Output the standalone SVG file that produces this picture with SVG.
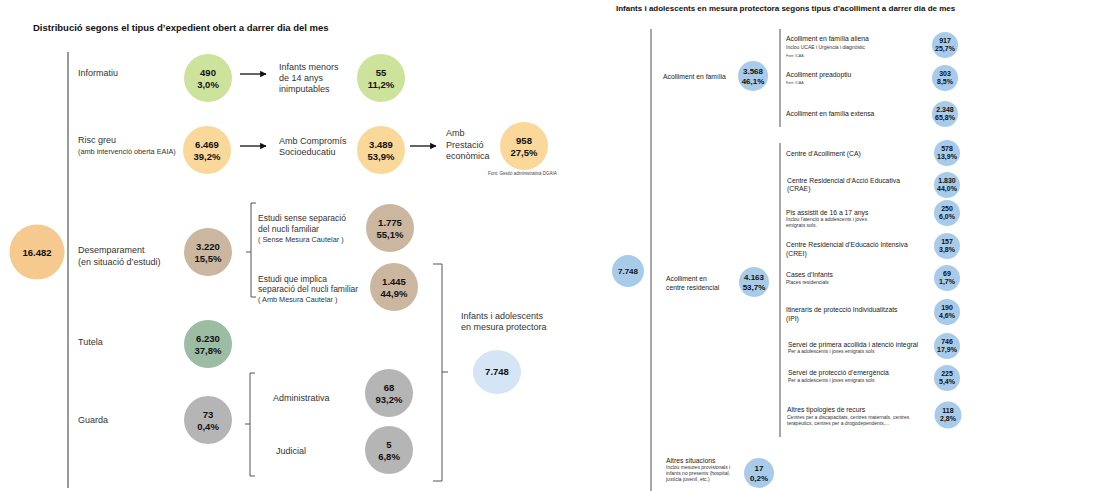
<svg xmlns="http://www.w3.org/2000/svg" width="1115" height="491" viewBox="0 0 1115 491">
  <style>
    text { font-family: "Liberation Sans", Arial, sans-serif; }
    .title { font-weight: bold; fill: #111; }
    .lbl { font-size: 9px; fill: #333; }
    .lbl-n { font-size: 8.5px; fill: #333; }
    .lbl-sm { font-size: 7.3px; fill: #333; }
    .num { font-size: 9.5px; font-weight: bold; fill: #111; text-anchor: middle; }
    .rlbl { font-size: 6.8px; fill: #222; }
    .rsub { font-size: 5px; fill: #333; }
    .rfont { font-size: 3.6px; fill: #444; }
    .rnum { font-size: 7px; font-weight: bold; fill: #111; text-anchor: middle; }
    .rnum-l { font-size: 8px; font-weight: bold; fill: #111; text-anchor: middle; }
    .note { font-size: 4.5px; fill: #444; }
    .c-green { fill: #CDE39C; }
    .c-orange { fill: #F9D89A; }
    .c-orange2 { fill: #F6CA8F; }
    .c-brown { fill: #CBB69F; }
    .c-teal { fill: #9DBCA4; }
    .c-gray { fill: #B5B5B5; }
    .c-pale { fill: #D5E5F5; }
    .c-blue { fill: #A8CBEA; }
    .axis { stroke: #555; stroke-width: 1.2; fill: none; }
    .raxis { stroke: #8a8a8a; stroke-width: 1.5; fill: none; }
    .brk { stroke: #555; stroke-width: 1; fill: none; }
    .arrow { stroke: #111; stroke-width: 1.3; fill: none; marker-end: url(#head); }
  </style>
  <defs>
    <marker id="head" viewBox="0 0 10 10" refX="9" refY="5" markerWidth="5" markerHeight="5" orient="auto" markerUnits="strokeWidth">
      <path d="M0,0 L10,5 L0,10 z" fill="#111"/>
    </marker>
  </defs>

  <rect width="1115" height="491" fill="#ffffff"/>

  <!-- Titles -->
  <text class="title" x="33" y="31" font-size="9.5">Distribució segons el tipus d’expedient obert a darrer dia del mes</text>
  <text class="title" x="616" y="11" font-size="8">Infants i adolescents en mesura protectora segons tipus d’acolliment a darrer dia de mes</text>

  <!-- Connectors: axes, arrows and brackets -->
  <g id="connectors">
    <line class="axis" x1="68" y1="52" x2="68" y2="488"/>
    <line class="arrow" x1="240" y1="74" x2="266" y2="74"/>
    <line class="arrow" x1="240" y1="146" x2="266" y2="146"/>
    <line class="arrow" x1="410" y1="146" x2="436" y2="146"/>
    <!-- Desemparament split -->
    <path class="brk" d="M256,203 H251 V297 H256 M251,252 H246"/>
    <!-- Guarda split -->
    <path class="brk" d="M255,373 H250 V476 H255 M250,424 H245"/>
    <!-- total under protective measure -->
    <path class="brk" d="M433,264 H442 V481 H433 M442,372 H448"/>
    <!-- right panel axes -->
    <line class="raxis" x1="651" y1="29" x2="651" y2="491"/>
    <line class="raxis" x1="780" y1="29" x2="780" y2="127"/>
    <line class="raxis" x1="780" y1="143" x2="780" y2="437"/>
  </g>

  <!-- Left panel -->
  <g id="total">
    <circle class="c-orange2" cx="37" cy="252" r="27.5"/>
    <text class="num" x="37" y="256" font-size="10.5">16.482</text>
  </g>

  <g id="informatiu">
    <text class="lbl" x="78" y="76">Informatiu</text>
    <circle class="c-green" cx="208" cy="78" r="24"/>
    <text class="num" x="208" y="76">490</text>
    <text class="num" x="208" y="88">3,0%</text>
  </g>
  <g id="inimputables">
    <text class="lbl" x="279" y="70">Infants menors</text>
    <text class="lbl" x="279" y="81">de 14 anys</text>
    <text class="lbl" x="279" y="92">inimputables</text>
    <circle class="c-green" cx="381" cy="78" r="24"/>
    <text class="num" x="381" y="76">55</text>
    <text class="num" x="381" y="88">11,2%</text>
  </g>

  <g id="risc-greu">
    <text class="lbl" x="78" y="143">Risc greu</text>
    <text class="lbl-sm" x="78" y="154">(amb intervenció oberta EAIA)</text>
    <circle class="c-orange" cx="207" cy="150" r="24"/>
    <text class="num" x="207" y="148">6.469</text>
    <text class="num" x="207" y="160">39,2%</text>
  </g>
  <g id="compromis">
    <text class="lbl" x="279" y="144">Amb Compromís</text>
    <text class="lbl" x="279" y="155">Socioeducatiu</text>
    <circle class="c-orange" cx="381" cy="150" r="24"/>
    <text class="num" x="381" y="148">3.489</text>
    <text class="num" x="381" y="160">53,9%</text>
  </g>
  <g id="prestacio">
    <text class="lbl" x="446" y="136">Amb</text>
    <text class="lbl" x="446" y="148">Prestació</text>
    <text class="lbl" x="446" y="159">econòmica</text>
    <circle class="c-orange" cx="524" cy="146" r="24"/>
    <text class="num" x="524" y="144">958</text>
    <text class="num" x="524" y="156">27,5%</text>
    <text class="note" x="488" y="175">Font: Gestió administrativa DGAIA</text>
  </g>

  <g id="desemparament">
    <text class="lbl" x="78" y="253">Desemparament</text>
    <text class="lbl" x="78" y="265">(en situació d’estudi)</text>
    <circle class="c-brown" cx="208" cy="252" r="24"/>
    <text class="num" x="208" y="250">3.220</text>
    <text class="num" x="208" y="262">15,5%</text>
  </g>
  <g id="sense-separacio">
    <text class="lbl-n" x="258" y="221">Estudi sense separació</text>
    <text class="lbl-n" x="258" y="232">del nucli familiar</text>
    <text class="lbl-sm" x="258" y="242">( Sense Mesura Cautelar )</text>
    <circle class="c-brown" cx="390" cy="228" r="24"/>
    <text class="num" x="390" y="226">1.775</text>
    <text class="num" x="390" y="238">55,1%</text>
  </g>
  <g id="amb-separacio">
    <text class="lbl-n" x="258" y="282">Estudi que implica</text>
    <text class="lbl-n" x="258" y="292">separació del nucli familiar</text>
    <text class="lbl-sm" x="258" y="302">( Amb Mesura Cautelar )</text>
    <circle class="c-brown" cx="394" cy="287" r="24"/>
    <text class="num" x="394" y="285">1.445</text>
    <text class="num" x="394" y="297">44,9%</text>
  </g>

  <g id="tutela">
    <text class="lbl" x="78" y="345">Tutela</text>
    <circle class="c-teal" cx="208" cy="344" r="24"/>
    <text class="num" x="208" y="342">6.230</text>
    <text class="num" x="208" y="354">37,8%</text>
  </g>

  <g id="guarda">
    <text class="lbl" x="78" y="423">Guarda</text>
    <circle class="c-gray" cx="208" cy="420" r="24"/>
    <text class="num" x="208" y="418">73</text>
    <text class="num" x="208" y="430">0,4%</text>
  </g>
  <g id="administrativa">
    <text class="lbl" x="273" y="401">Administrativa</text>
    <circle class="c-gray" cx="389" cy="393" r="24"/>
    <text class="num" x="389" y="391">68</text>
    <text class="num" x="389" y="403">93,2%</text>
  </g>
  <g id="judicial">
    <text class="lbl" x="276" y="454">Judicial</text>
    <circle class="c-gray" cx="389" cy="450" r="24"/>
    <text class="num" x="389" y="448">5</text>
    <text class="num" x="389" y="460">6,8%</text>
  </g>

  <g id="mesura-protectora">
    <text class="lbl" x="461" y="319">Infants i adolescents</text>
    <text class="lbl" x="461" y="330">en mesura protectora</text>
    <ellipse class="c-pale" cx="497" cy="372" rx="24" ry="22"/>
    <text class="num" x="497" y="375">7.748</text>
  </g>

  <!-- Right panel -->
  <g id="r-total">
    <circle class="c-blue" cx="628" cy="271" r="16"/>
    <text class="rnum-l" x="628" y="274" font-size="8.5">7.748</text>
  </g>

  <g id="r-familia">
    <text class="rlbl" x="663" y="79">Acolliment en família</text>
    <circle class="c-blue" cx="753" cy="76" r="15"/>
    <text class="rnum-l" x="753" y="74">3.568</text>
    <text class="rnum-l" x="753" y="83.5">46,1%</text>
  </g>
  <g id="r-aliena">
    <text class="rlbl" x="786" y="41">Acolliment en família aliena</text>
    <text class="rsub" x="786" y="48.5">Inclou UCAE i Urgència i diagnòstic</text>
    <text class="rfont" x="786" y="57">Font: ICAA</text>
    <circle class="c-blue" cx="945" cy="45" r="13"/>
    <text class="rnum" x="945" y="43">917</text>
    <text class="rnum" x="945" y="51">25,7%</text>
  </g>
  <g id="r-preadoptiu">
    <text class="rlbl" x="786" y="76.5">Acolliment preadoptiu</text>
    <text class="rfont" x="786" y="84">Font: ICAA</text>
    <circle class="c-blue" cx="945" cy="78" r="13"/>
    <text class="rnum" x="945" y="76">303</text>
    <text class="rnum" x="945" y="84">8,5%</text>
  </g>
  <g id="r-extensa">
    <text class="rlbl" x="786" y="115.5">Acolliment en família extensa</text>
    <circle class="c-blue" cx="945" cy="114" r="13"/>
    <text class="rnum" x="945" y="112">2.348</text>
    <text class="rnum" x="945" y="120">65,8%</text>
  </g>

  <g id="r-residencial">
    <text class="rlbl" x="666" y="280.5">Acolliment en</text>
    <text class="rlbl" x="666" y="289.5">centre residencial</text>
    <circle class="c-blue" cx="754" cy="282" r="15"/>
    <text class="rnum-l" x="754" y="280">4.163</text>
    <text class="rnum-l" x="754" y="289.5">53,7%</text>
  </g>
  <g id="r-ca">
    <text class="rlbl" x="786" y="155.5">Centre d’Acolliment (CA)</text>
    <circle class="c-blue" cx="947" cy="153" r="13"/>
    <text class="rnum" x="947" y="151">578</text>
    <text class="rnum" x="947" y="159">13,9%</text>
  </g>
  <g id="r-crae">
    <text class="rlbl" x="787" y="182.5">Centre Residencial d’Acció Educativa</text>
    <text class="rlbl" x="787" y="191">(CRAE)</text>
    <circle class="c-blue" cx="947" cy="185" r="13"/>
    <text class="rnum" x="947" y="183">1.830</text>
    <text class="rnum" x="947" y="191">44,0%</text>
  </g>
  <g id="r-pis">
    <text class="rlbl" x="786" y="214.5">Pis assistit de 16 a 17 anys</text>
    <text class="rsub" x="786" y="220.5">Inclou l’atenció a adolescents i joves</text>
    <text class="rsub" x="786" y="226.5">emigrats sols.</text>
    <circle class="c-blue" cx="947" cy="213" r="13"/>
    <text class="rnum" x="947" y="211">250</text>
    <text class="rnum" x="947" y="219">6,0%</text>
  </g>
  <g id="r-crei">
    <text class="rlbl" x="786" y="247">Centre Residencial d’Educació Intensiva</text>
    <text class="rlbl" x="786" y="255.5">(CREI)</text>
    <circle class="c-blue" cx="947" cy="246" r="13"/>
    <text class="rnum" x="947" y="244">157</text>
    <text class="rnum" x="947" y="252">3,8%</text>
  </g>
  <g id="r-cases">
    <text class="rlbl" x="786" y="276.5">Cases d’Infants</text>
    <text class="rsub" x="786" y="283.5">Places residencials</text>
    <circle class="c-blue" cx="947" cy="278" r="13"/>
    <text class="rnum" x="947" y="276">69</text>
    <text class="rnum" x="947" y="284">1,7%</text>
  </g>
  <g id="r-ipi">
    <text class="rlbl" x="786" y="311.5">Itineraris de protecció Individualitzats</text>
    <text class="rlbl" x="786" y="320.5">(IPI)</text>
    <circle class="c-blue" cx="947" cy="312" r="13"/>
    <text class="rnum" x="947" y="310">190</text>
    <text class="rnum" x="947" y="318">4,6%</text>
  </g>
  <g id="r-primera">
    <text class="rlbl" x="788" y="346.5">Servei de primera acollida i atenció integral</text>
    <text class="rsub" x="788" y="353">Per a adolescents i joves emigrats sols</text>
    <circle class="c-blue" cx="947" cy="346" r="13"/>
    <text class="rnum" x="947" y="344">746</text>
    <text class="rnum" x="947" y="352">17,9%</text>
  </g>
  <g id="r-emergencia">
    <text class="rlbl" x="788" y="375">Servei de protecció d’emergència</text>
    <text class="rsub" x="788" y="381.5">Per a adolescents i joves emigrats sols</text>
    <circle class="c-blue" cx="947" cy="378" r="13"/>
    <text class="rnum" x="947" y="376">225</text>
    <text class="rnum" x="947" y="384">5,4%</text>
  </g>
  <g id="r-altres-recurs">
    <text class="rlbl" x="787" y="411.5">Altres tipologies de recurs</text>
    <text class="rsub" x="787" y="418.5">Centres per a discapacitats, centres maternals, centres</text>
    <text class="rsub" x="787" y="424.5">terapèutics, centres  per a drogodependents,...</text>
    <circle class="c-blue" cx="948" cy="415" r="13.5"/>
    <text class="rnum" x="948" y="413">118</text>
    <text class="rnum" x="948" y="421">2,8%</text>
  </g>

  <g id="r-altres-situacions">
    <text class="rlbl" x="666" y="462.5">Altres situacions</text>
    <text class="rsub" x="666" y="469">Inclou mesures provisionals i</text>
    <text class="rsub" x="666" y="475">infants no presents (hospital,</text>
    <text class="rsub" x="666" y="481">justícia juvenil, etc.)</text>
    <circle class="c-blue" cx="759" cy="473" r="15"/>
    <text class="rnum-l" x="759" y="471">17</text>
    <text class="rnum-l" x="759" y="480.5">0,2%</text>
  </g>
</svg>
